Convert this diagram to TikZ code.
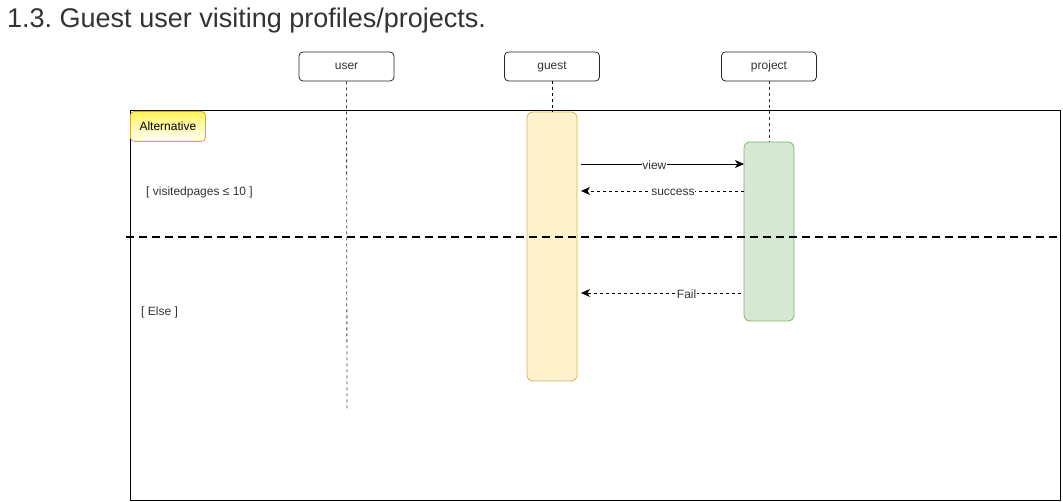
\documentclass[tikz,border=0pt]{standalone}
\usepackage{fontspec}
\setmainfont{Liberation Sans}
\usetikzlibrary{arrows.meta}
\frenchspacing
\definecolor{gfill}{HTML}{FFF2CC}
\definecolor{gdraw}{HTML}{D6B656}
\definecolor{pfill}{HTML}{D5E8D4}
\definecolor{pdraw}{HTML}{82B366}
\definecolor{tagtop}{HTML}{FFF35A}
\definecolor{tagdraw}{HTML}{D6A630}
\definecolor{txt}{HTML}{333333}
\begin{document}
\begin{tikzpicture}[x=1pt,y=-1pt, font=\fontsize{12}{14}\selectfont,
  head/.style={draw=black!85, rounded corners=4pt, minimum width=95pt, minimum height=29pt, inner sep=0pt, line width=0.8pt, text=txt},
  actbox/.style={rounded corners=6pt, minimum width=50pt, inner sep=0pt, line width=0.8pt},
  life/.style={dash pattern=on 3pt off 3pt, line width=0.8pt},
  msg/.style={line width=0.8pt, -{Stealth[length=9pt,width=8pt,inset=2.5pt]}},
  ret/.style={msg, dash pattern=on 3pt off 3pt},
  lbl/.style={fill=white, inner sep=0.5pt, text=txt, yshift=-1.2pt}]
\useasboundingbox (0,0) rectangle (1063,502);
\node[anchor=base west, font=\fontsize{27}{31}\selectfont, text=txt, inner sep=0pt] (title) at (7,28) {1.3. Guest user visiting profiles/projects.};
% frame
\node[draw, line width=1pt, minimum width=930pt, minimum height=389pt, inner sep=0pt] (frame) at (595,305.5) {};
% headers
\node[head] (user) at (346.5,66.5) {user};
\node[head] (guest) at (552,66.5) {guest};
\node[head] (project) at (769,66.5) {project};
% activations
\node[actbox, fill=gfill, draw=gdraw, minimum height=269pt] (ga) at (552,246.5) {};
\node[actbox, fill=pfill, draw=pdraw, minimum height=179pt] (pa) at (769,231.5) {};
% lifelines
\coordinate (userend) at (347,410);
\draw[life, black!75] (user.south) -- (userend);
\draw[life] (guest.south) -- (ga.north);
\draw[life, black!80] (project.south) -- (pa.north);
% alternative tag
\node[anchor=north west, draw=tagdraw, rounded corners=4pt, top color=tagtop, bottom color=white, minimum width=75pt, minimum height=30pt, inner sep=0pt, line width=0.8pt] (tag) at (130,111) {Alternative};
% guards
\node[anchor=west, inner sep=0pt, text=txt] (g1) at (146,192) {[ visitedpages ≤ 10 ]};
\node[anchor=west, inner sep=0pt, text=txt] (g2) at (141,312) {[ Else ]};
% divider
\coordinate (d1) at (126,237);
\coordinate (d2) at (1060,237);
\draw[line width=2pt, dash pattern=on 8pt off 5pt] (d1) -- (d2);
% messages
\coordinate (v1) at (581,164);
\coordinate (v2) at (744,164);
\draw[msg] (v1) -- node[lbl, pos=0.45] {view} (v2);
\coordinate (s1) at (744,191);
\coordinate (s2) at (581,191);
\draw[ret] (s1) -- node[lbl, pos=0.436] {success} (s2);
\coordinate (f1) at (741,293);
\coordinate (f2) at (581,293);
\draw[ret] (f1) -- node[lbl, pos=0.34] {Fail} (f2);
\end{tikzpicture}
\end{document}
